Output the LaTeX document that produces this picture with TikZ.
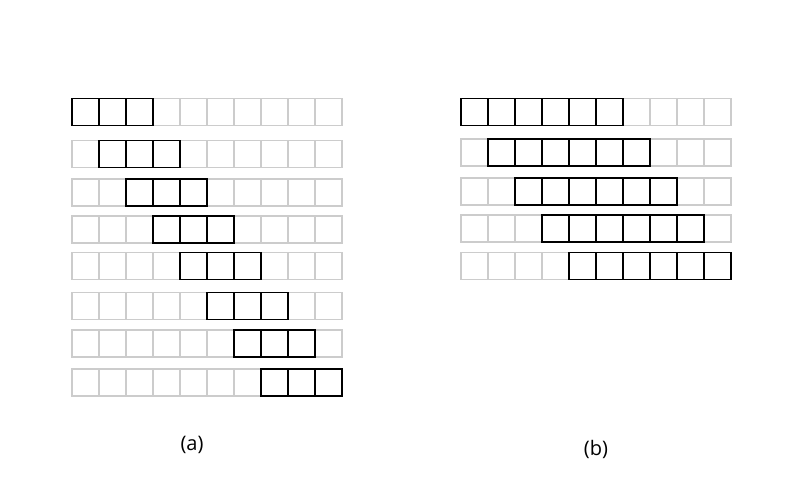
\documentclass[tikz,border=0pt]{standalone}
\usepackage{fontspec}
\setmainfont{Open Sans}
\usetikzlibrary{positioning}

\begin{document}
\begin{tikzpicture}[x=1pt,y=-1pt,every node/.append style={align=center},
    cell/.style={draw=black!20, line width=1.5pt, minimum size=27pt, inner sep=0pt, outer sep=0pt},
    win/.style={draw=black, line width=1.8pt, minimum size=27pt, inner sep=0pt, outer sep=0pt},
    lbl/.style={font=\fontsize{20pt}{24pt}\selectfont}]
    \useasboundingbox (0,0) rectangle (800,500);
    % (a) window of 3 moving one cell per row
    \foreach \r/\y in {1/112,2/154,3/192.5,4/229.5,5/266,6/306,7/343.5,8/382.5} {
        \foreach \c in {1,...,10}
            \node [cell] (a\r-\c) at (58.5+27*\c,\y) {};
        \pgfmathtruncatemacro\e{\r+2}
        \foreach \c in {\r,...,\e}
            \node [win] (wa\r-\c) at (a\r-\c) {};
    }
    % (b) window of 6
    \foreach \r/\y in {1/112,2/152.5,3/191.5,4/228.5,5/266} {
        \foreach \c in {1,...,10}
            \node [cell] (b\r-\c) at (447.5+27*\c,\y) {};
        \pgfmathtruncatemacro\e{\r+5}
        \foreach \c in {\r,...,\e}
            \node [win] (wb\r-\c) at (b\r-\c) {};
    }
    \node [lbl] (la) at (192,445) {(a)};
    \node [lbl] (lb) at (596,449) {(b)};
\end{tikzpicture}
\end{document}
